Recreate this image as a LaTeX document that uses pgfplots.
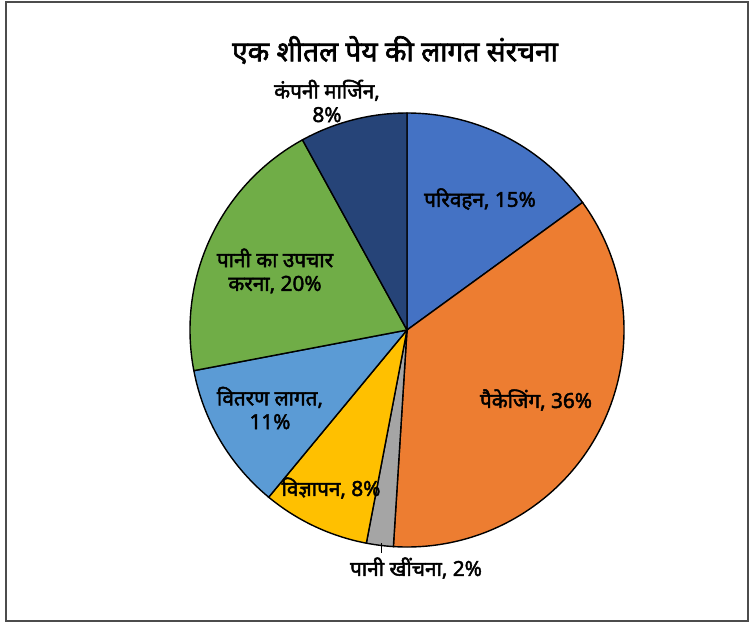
\documentclass[border=0pt]{standalone}
\usepackage{pgfplots}
\usepackage{pgfplotstable}
\pgfplotsset{compat=1.18}
\usepackage{fontspec}
\setmainfont{Noto Sans}[Script=Devanagari, BoldFont={Noto Sans}, BoldFeatures={FakeBold=2.2}]

\definecolor{cA}{HTML}{4472C4}
\definecolor{cB}{HTML}{ED7D31}
\definecolor{cC}{HTML}{A5A5A5}
\definecolor{cD}{HTML}{FFC000}
\definecolor{cE}{HTML}{5B9BD5}
\definecolor{cF}{HTML}{70AD47}
\definecolor{cG}{HTML}{264478}

% share of each cost, clockwise from 12 o'clock
\pgfplotstableread{
pct col
15 cA
36 cB
2 cC
8 cD
11 cE
20 cF
8 cG
}\piedata

\begin{document}
\begin{tikzpicture}
\begin{axis}[
    scale only axis,
    width=15cm, height=12.46cm,
    xmin=0, xmax=750, ymin=0, ymax=623,
    y dir=reverse,
    hide axis,
    clip=false,
]
\path (axis cs:0,0) rectangle (axis cs:750,623);
\draw[black!70, line width=1.4pt] (axis cs:6,2) rectangle (axis cs:748,621);

\gdef\curangle{90}
\pgfplotsinvokeforeach{0,...,6}{
    \pgfplotstablegetelem{#1}{pct}\of\piedata
    \pgfmathsetmacro\sweep{3.6*\pgfplotsretval}
    \pgfplotstablegetelem{#1}{col}\of\piedata
    \let\slicecol\pgfplotsretval
    \pgfmathsetmacro\endangle{\curangle-\sweep}
    \edef\temp{\noexpand\filldraw[fill=\slicecol, draw=black, line width=0.8pt]
        (axis cs:407,330) -- ++(\curangle:4.34cm)
        arc[start angle=\curangle, end angle=\endangle, radius=4.34cm] -- cycle;}
    \temp
    \global\let\curangle\endangle
}

\draw[black, line width=0.5pt] (axis cs:381,543) -- (axis cs:381,553);

\node[font=\bfseries\fontsize{16}{19}\selectfont] at (axis cs:395,50) {एक शीतल पेय की लागत संरचना};

\tikzset{lbl/.style={font=\bfseries\fontsize{11.8}{13.5}\selectfont, align=center, inner sep=0pt}}
\node[lbl] at (axis cs:327,101) {कंपनी मार्जिन,\\8\%};
\node[lbl] at (axis cs:480,199) {परिवहन, 15\%};
\node[lbl] at (axis cs:536,400) {पैकेजिंग, 36\%};
\node[lbl] at (axis cs:275,271) {पानी का उपचार\\करना, 20\%};
\node[lbl] at (axis cs:270,408) {वितरण लागत,\\11\%};
\node[lbl] at (axis cs:331,488) {विज्ञापन, 8\%};
\node[lbl] at (axis cs:416,568) {पानी खींचना, 2\%};
\end{axis}
\end{tikzpicture}
\end{document}
